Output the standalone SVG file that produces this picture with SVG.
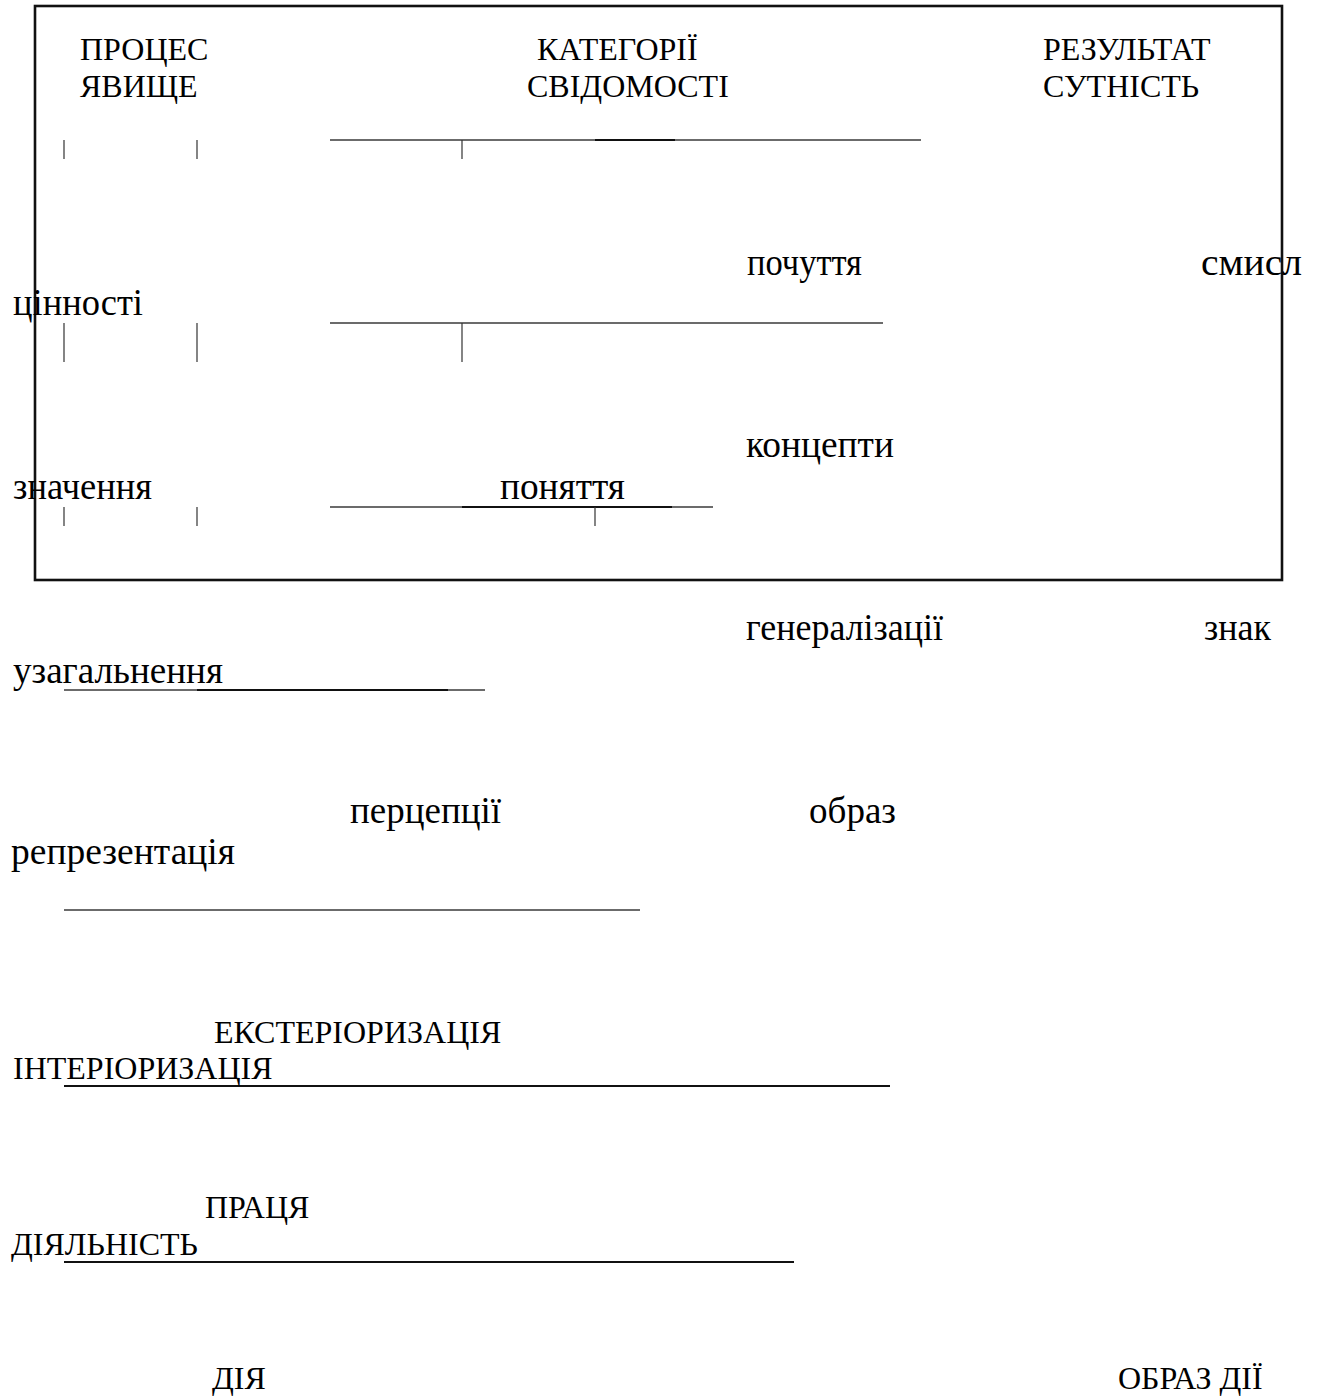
<svg xmlns="http://www.w3.org/2000/svg" width="1319" height="1399" viewBox="0 0 1319 1399">
  <style>
    .t { font-family: "Liberation Serif", "Times New Roman", serif; font-size: 32px; fill: #000; }
    .lc { font-family: "Liberation Serif", "Times New Roman", serif; font-size: 37px; fill: #000; }
    .frame { fill: none; stroke: #111; stroke-width: 2.6; }
    .rule { stroke: #3a3a3a; stroke-width: 1.6; fill: none; }
    .rule-dark { stroke: #111; stroke-width: 1.8; fill: none; }
    .tick { stroke: #333; stroke-width: 1.2; fill: none; }
  </style>
  <rect width="1319" height="1399" fill="#fff"/>

  <!-- framed block: categories of consciousness -->
  <g id="frame">
    <rect class="frame" x="35" y="6" width="1247" height="574"/>
  </g>

  <!-- horizontal rules and short vertical ticks -->
  <g id="connectors">
    <!-- row 1 -->
    <line class="rule" x1="330" y1="140" x2="921" y2="140"/>
    <line class="rule-dark" x1="595" y1="140" x2="675" y2="140"/>
    <line class="tick" x1="64" y1="140" x2="64" y2="159"/>
    <line class="tick" x1="197" y1="140" x2="197" y2="159"/>
    <line class="tick" x1="462" y1="140" x2="462" y2="159"/>
    <!-- row 2 -->
    <line class="rule" x1="330" y1="323" x2="883" y2="323"/>
    <line class="tick" x1="64" y1="323" x2="64" y2="362"/>
    <line class="tick" x1="197" y1="323" x2="197" y2="362"/>
    <line class="tick" x1="462" y1="323" x2="462" y2="362"/>
    <!-- row 3 -->
    <line class="rule" x1="330" y1="507" x2="713" y2="507"/>
    <line class="rule-dark" x1="462" y1="507" x2="672" y2="507"/>
    <line class="tick" x1="64" y1="507" x2="64" y2="526"/>
    <line class="tick" x1="197" y1="507" x2="197" y2="526"/>
    <line class="tick" x1="595" y1="507" x2="595" y2="526"/>
    <!-- lower rules -->
    <line class="rule" x1="64" y1="690" x2="485" y2="690"/>
    <line class="rule-dark" x1="197" y1="690" x2="448" y2="690"/>
    <line class="rule" x1="64" y1="910" x2="640" y2="910"/>
    <line class="rule-dark" x1="64" y1="1086" x2="890" y2="1086"/>
    <line class="rule-dark" x1="64" y1="1262" x2="794" y2="1262"/>
  </g>

  <!-- column headers -->
  <g id="header-process">
    <text class="t" x="80" y="60">ПРОЦЕС</text>
    <text class="t" x="80" y="97">ЯВИЩЕ</text>
  </g>
  <g id="header-categories">
    <text class="t" x="537" y="60">КАТЕГОРІЇ</text>
    <text class="t" x="527" y="97">СВІДОМОСТІ</text>
  </g>
  <g id="header-result">
    <text class="t" x="1043" y="60">РЕЗУЛЬТАТ</text>
    <text class="t" x="1043" y="97">СУТНІСТЬ</text>
  </g>

  <!-- level: values / feelings / sense -->
  <g id="node-pochuttia"><text class="lc" x="747" y="275" textLength="115" lengthAdjust="spacingAndGlyphs">почуття</text></g>
  <g id="node-smysl"><text class="lc" x="1201" y="275" textLength="101" lengthAdjust="spacingAndGlyphs">смисл</text></g>
  <g id="node-tsinnosti"><text class="lc" x="13" y="315" textLength="130" lengthAdjust="spacingAndGlyphs">цінності</text></g>

  <!-- level: meaning / notions / concepts -->
  <g id="node-kontsepty"><text class="lc" x="746" y="457" textLength="148" lengthAdjust="spacingAndGlyphs">концепти</text></g>
  <g id="node-znachennia"><text class="lc" x="13" y="499" textLength="139" lengthAdjust="spacingAndGlyphs">значення</text></g>
  <g id="node-poniattia"><text class="lc" x="500" y="499" textLength="125" lengthAdjust="spacingAndGlyphs">поняття</text></g>

  <!-- level: generalisation / sign -->
  <g id="node-heneralizatsii"><text class="lc" x="746" y="640" textLength="197" lengthAdjust="spacingAndGlyphs">генералізації</text></g>
  <g id="node-znak"><text class="lc" x="1204" y="640" textLength="67" lengthAdjust="spacingAndGlyphs">знак</text></g>
  <g id="node-uzahalnennia"><text class="lc" x="13" y="683" textLength="210" lengthAdjust="spacingAndGlyphs">узагальнення</text></g>

  <!-- level: perception / image -->
  <g id="node-pertseptsii"><text class="lc" x="350" y="823" textLength="151" lengthAdjust="spacingAndGlyphs">перцепції</text></g>
  <g id="node-obraz"><text class="lc" x="809" y="823" textLength="87" lengthAdjust="spacingAndGlyphs">образ</text></g>
  <g id="node-reprezentatsiia"><text class="lc" x="11" y="864" textLength="224" lengthAdjust="spacingAndGlyphs">репрезентація</text></g>

  <!-- level: exteriorisation / interiorisation -->
  <g id="node-eksterioryzatsiia"><text class="t" x="214" y="1043">ЕКСТЕРІОРИЗАЦІЯ</text></g>
  <g id="node-interioryzatsiia"><text class="t" x="13" y="1079">ІНТЕРІОРИЗАЦІЯ</text></g>

  <!-- level: labour / activity -->
  <g id="node-pratsia"><text class="t" x="205" y="1218">ПРАЦЯ</text></g>
  <g id="node-diialnist"><text class="t" x="11" y="1255">ДІЯЛЬНІСТЬ</text></g>

  <!-- level: action / image of action -->
  <g id="node-diia"><text class="t" x="212" y="1389">ДІЯ</text></g>
  <g id="node-obraz-dii"><text class="t" x="1118" y="1389">ОБРАЗ ДІЇ</text></g>
</svg>
